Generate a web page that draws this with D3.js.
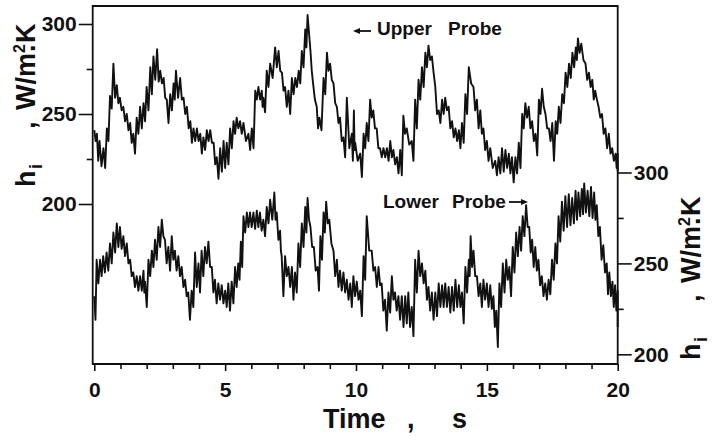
<!DOCTYPE html>
<html>
<head>
<meta charset="utf-8">
<script src="https://cdn.jsdelivr.net/npm/d3@7/dist/d3.min.js"></script>
<style>
    body { margin: 0; background: #fff; }
    svg { display: block; }
    text {
        font-family: "Liberation Sans", Arial, sans-serif;
        font-weight: bold;
        fill: #111;
    }
    .tick line { stroke: #111; stroke-width: 1.6; }
    .tick text { font-size: 21px; }
</style>
</head>
<body>
<svg width="712" height="437"></svg>
<script>
/*global d3 */
"use strict";

// [time s, top of noise band, bottom of noise band], W/m2K
var upperProbe = [
    [0, 241, 235], [0.1, 239, 224], [0.2, 235, 221], [0.35, 231, 220],
    [0.48, 242, 235], [0.6, 260, 253], [0.73, 278, 259], [0.86, 266, 256],
    [0.98, 259, 252], [1.11, 254, 246], [1.24, 250, 241], [1.37, 245, 234],
    [1.49, 239, 228], [1.62, 248, 239], [1.75, 254, 242], [1.88, 256, 246],
    [2.0, 265, 252], [2.14, 276, 261], [2.26, 282, 269], [2.4, 286, 268],
    [2.52, 274, 267], [2.65, 270, 259], [2.77, 258, 245], [2.9, 261, 252],
    [3.03, 267, 258], [3.12, 274, 259], [3.28, 270, 258], [3.41, 259, 250],
    [3.54, 254, 242], [3.67, 246, 234], [3.79, 242, 235], [3.92, 242, 235],
    [4.05, 239, 228], [4.17, 237, 230], [4.3, 241, 235], [4.43, 241, 234],
    [4.56, 234, 222], [4.68, 226, 214], [4.81, 231, 218], [4.94, 235, 220],
    [5.06, 234, 222], [5.19, 242, 231], [5.32, 246, 239], [5.44, 248, 242],
    [5.57, 246, 239], [5.7, 245, 235], [5.89, 239, 230], [6.02, 242, 231],
    [6.15, 263, 258], [6.27, 265, 258], [6.4, 263, 254], [6.46, 259, 251],
    [6.59, 274, 265], [6.72, 278, 270], [6.91, 287, 276], [7.04, 285, 274],
    [7.17, 273, 263], [7.29, 265, 254], [7.42, 263, 250], [7.55, 270, 261],
    [7.68, 270, 265], [7.81, 274, 267], [7.93, 285, 276], [8.06, 297, 287],
    [8.15, 305, 295], [8.26, 285, 274], [8.36, 267, 258], [8.5, 254, 242],
    [8.6, 248, 241], [8.76, 270, 261], [8.89, 284, 274], [9.01, 278, 269],
    [9.14, 267, 256], [9.27, 254, 245], [9.39, 248, 235], [9.52, 237, 226],
    [9.65, 259, 231], [9.84, 239, 224], [9.92, 252, 230], [9.97, 234, 224],
    [10.16, 228, 215], [10.29, 239, 231], [10.41, 245, 235],
    [10.54, 258, 248], [10.66, 252, 242], [10.79, 242, 231],
    [10.92, 231, 226], [11.05, 231, 226], [11.18, 231, 224],
    [11.31, 235, 226], [11.43, 230, 222], [11.56, 226, 217],
    [11.69, 230, 216], [11.81, 249, 239], [11.94, 242, 233],
    [12.13, 235, 224], [12.26, 258, 242], [12.39, 269, 258],
    [12.52, 276, 265], [12.65, 284, 276], [12.77, 288, 280],
    [12.9, 282, 273], [13.03, 265, 250], [13.16, 252, 245],
    [13.29, 258, 250], [13.41, 259, 252], [13.54, 254, 242],
    [13.67, 246, 237], [13.8, 242, 235], [13.93, 241, 231],
    [14.05, 245, 234], [14.18, 261, 250], [14.31, 276, 267],
    [14.49, 265, 252], [14.62, 258, 242], [14.75, 252, 239],
    [14.87, 242, 230], [15.0, 235, 224], [15.13, 231, 220],
    [15.32, 224, 216], [15.45, 226, 217], [15.58, 231, 218],
    [15.71, 230, 220], [15.84, 228, 217], [15.96, 226, 212],
    [16.09, 226, 217], [16.22, 234, 220], [16.35, 250, 242],
    [16.47, 256, 248], [16.6, 254, 242], [16.73, 246, 235],
    [16.86, 239, 227], [16.99, 258, 250], [17.11, 264, 254],
    [17.24, 250, 242], [17.37, 242, 235], [17.5, 245, 224],
    [17.63, 246, 239], [17.75, 254, 245], [17.88, 261, 256],
    [18.01, 273, 265], [18.14, 278, 270], [18.27, 284, 276],
    [18.4, 287, 280], [18.48, 292, 284], [18.61, 289, 280],
    [18.77, 278, 269], [18.9, 273, 265], [19.03, 269, 258],
    [19.14, 263, 258], [19.27, 254, 248], [19.4, 250, 239],
    [19.53, 242, 231], [19.66, 239, 228], [19.79, 231, 224],
    [19.92, 228, 220], [20.0, 228, 218]
];

var lowerProbe = [
    [0, 232, 219], [0.09, 252, 239], [0.22, 252, 243], [0.34, 254, 245],
    [0.47, 256, 246], [0.6, 261, 250], [0.73, 267, 256], [0.86, 272, 259],
    [0.98, 270, 258], [1.11, 265, 254], [1.24, 261, 250], [1.37, 252, 243],
    [1.49, 245, 237], [1.62, 243, 235], [1.75, 243, 235], [1.88, 246, 234],
    [1.94, 240, 226], [2.07, 252, 243], [2.2, 257, 248], [2.32, 263, 252],
    [2.45, 270, 259], [2.58, 274, 265], [2.7, 263, 250], [2.83, 259, 246],
    [2.96, 265, 252], [3.08, 257, 246], [3.21, 254, 243], [3.34, 248, 237],
    [3.47, 241, 232], [3.59, 234, 219], [3.72, 235, 226], [3.85, 256, 237],
    [3.98, 250, 234], [4.1, 257, 243], [4.23, 259, 250], [4.36, 262, 248],
    [4.49, 248, 234], [4.61, 241, 228], [4.74, 239, 230], [4.87, 238, 228],
    [5.0, 235, 226], [5.12, 239, 224], [5.25, 240, 228], [5.38, 248, 237],
    [5.5, 250, 241], [5.6, 262, 248], [5.7, 276, 267], [5.83, 278, 270],
    [5.95, 278, 270], [6.08, 278, 269], [6.21, 279, 270], [6.33, 278, 268],
    [6.46, 274, 265], [6.59, 281, 272], [6.72, 285, 274], [6.88, 289, 274],
    [6.97, 278, 263], [7.1, 268, 257], [7.16, 254, 232], [7.29, 254, 243],
    [7.42, 248, 237], [7.55, 248, 230], [7.67, 245, 234], [7.8, 261, 248],
    [7.93, 272, 259], [8.06, 281, 267], [8.15, 286, 274], [8.26, 270, 259],
    [8.39, 259, 246], [8.53, 248, 235], [8.64, 265, 252], [8.76, 278, 267],
    [8.86, 284, 272], [8.98, 274, 261], [9.14, 257, 243], [9.27, 252, 237],
    [9.39, 246, 235], [9.52, 245, 234], [9.65, 241, 230], [9.78, 239, 226],
    [9.9, 243, 232], [10.03, 240, 230], [10.16, 235, 221],
    [10.29, 254, 241], [10.41, 276, 257], [10.6, 257, 246],
    [10.73, 248, 237], [10.86, 248, 238], [10.98, 239, 224],
    [11.11, 230, 213], [11.24, 234, 223], [11.37, 243, 230],
    [11.49, 234, 224], [11.62, 232, 219], [11.75, 232, 215],
    [11.88, 232, 217], [12.0, 234, 215], [12.13, 226, 210],
    [12.26, 252, 234], [12.39, 257, 243], [12.52, 250, 239],
    [12.65, 246, 230], [12.77, 237, 224], [12.9, 234, 219],
    [13.03, 234, 221], [13.16, 239, 226], [13.29, 238, 226],
    [13.41, 239, 226], [13.54, 237, 223], [13.67, 237, 224],
    [13.8, 241, 226], [13.93, 238, 226], [14.05, 234, 217],
    [14.18, 248, 234], [14.31, 252, 243], [14.38, 265, 248],
    [14.49, 257, 243], [14.62, 243, 232], [14.75, 239, 226],
    [14.87, 241, 230], [15.0, 239, 226], [15.13, 238, 225],
    [15.25, 232, 215], [15.36, 224, 204], [15.48, 239, 226],
    [15.61, 250, 234], [15.74, 252, 241], [15.86, 248, 232],
    [15.99, 259, 245], [16.12, 267, 254], [16.25, 270, 257],
    [16.37, 276, 265], [16.5, 282, 270], [16.62, 270, 256],
    [16.73, 263, 248], [16.85, 259, 246], [16.97, 252, 238],
    [17.1, 243, 232], [17.23, 239, 230], [17.36, 241, 233],
    [17.49, 252, 241], [17.62, 261, 250], [17.74, 276, 262],
    [17.87, 284, 268], [18.0, 287, 270], [18.13, 288, 271],
    [18.26, 286, 272], [18.39, 290, 274], [18.5, 289, 276],
    [18.63, 291, 277], [18.72, 294, 278], [18.85, 290, 276],
    [18.98, 292, 275], [19.1, 289, 274], [19.2, 282, 265],
    [19.32, 270, 252], [19.45, 260, 245], [19.58, 250, 233],
    [19.68, 245, 232], [19.8, 240, 226], [19.9, 238, 224],
    [20.0, 235, 215]
];

var timeTicks = [0, 5, 10, 15, 20];
var timeMinorTicks = [1, 2, 3, 4, 6, 7, 8, 9, 11, 12, 13, 14, 16, 17, 18, 19];
var hTicks = [200, 250, 300];
var hMinorTicks = [225, 275];

var svg = d3.select("svg");

var xScale = d3.scaleLinear().domain([0, 20]).range([94.3, 617.7]);
var yUpper = d3.scaleLinear().domain([200, 300]).range([204, 24]);
var yLower = d3.scaleLinear().domain([200, 300]).range([354.3, 172.5]);

var frame = {left: 92.7, right: 617.7, top: 6, bottom: 364};

// noise band: alternate top and bottom of the band along the time axis
var zigzag = function (rows) {
    var pts = [];
    rows.forEach(function (r, i) {
        var next = i < rows.length - 1 ? rows[i + 1][0] : r[0];
        pts.push([r[0], r[1]]);
        pts.push([(r[0] + next) / 2, r[2]]);
    });
    return pts;
};

var traceLine = function (yScale) {
    return d3.line()
        .x(function (d) {
            return xScale(d[0]);
        })
        .y(function (d) {
            return yScale(d[1]);
        });
};

svg.append("path")
    .datum(zigzag(upperProbe))
    .attr("fill", "none")
    .attr("stroke", "#111")
    .attr("stroke-width", 1.9)
    .attr("stroke-linejoin", "round")
    .attr("d", traceLine(yUpper));

svg.append("path")
    .datum(zigzag(lowerProbe))
    .attr("fill", "none")
    .attr("stroke", "#111")
    .attr("stroke-width", 1.9)
    .attr("stroke-linejoin", "round")
    .attr("d", traceLine(yLower));

// frame
svg.append("path")
    .attr("fill", "none")
    .attr("stroke", "#111")
    .attr("stroke-width", 1.8)
    .attr("d", "M" + frame.left + "," + frame.bottom +
            "V" + frame.top + "H" + frame.right +
            "V" + frame.bottom + "Z");

// axes
var addAxis = function (axis, tx, ty) {
    var g = svg.append("g")
        .attr("transform", "translate(" + tx + "," + ty + ")")
        .call(axis);
    g.select(".domain").remove();
    return g;
};

addAxis(d3.axisLeft(yUpper).tickValues(hTicks).tickSize(14)
    .tickPadding(2), frame.left, 0);
addAxis(d3.axisLeft(yUpper).tickValues(hMinorTicks).tickSize(6)
    .tickFormat(""), frame.left, 0);
addAxis(d3.axisRight(yLower).tickValues(hTicks).tickSize(14)
    .tickPadding(2), frame.right, 0);
addAxis(d3.axisRight(yLower).tickValues(hMinorTicks).tickSize(6)
    .tickFormat(""), frame.right, 0);
addAxis(d3.axisBottom(xScale).tickValues(timeTicks).tickSize(7)
    .tickPadding(11), 0, frame.bottom);
addAxis(d3.axisBottom(xScale).tickValues(timeMinorTicks).tickSize(5)
    .tickFormat(""), 0, frame.bottom);

// x title
var xTitle = svg.append("g").style("font-size", "27px");
xTitle.append("text").attr("x", 323).attr("y", 428).text("Time");
xTitle.append("text").attr("x", 407).attr("y", 428).text(",");
xTitle.append("text").attr("x", 452).attr("y", 428).text("s");

// y titles
var yTitle = function (tx, ty, size) {
    var k = size / 27;
    var t = svg.append("text")
        .attr("transform", "translate(" + tx + "," + ty + ") rotate(-90)")
        .style("font-size", size + "px");
    t.append("tspan").attr("x", 0).attr("y", 0).text("h");
    t.append("tspan").attr("x", 18 * k).attr("y", 7 * k)
        .style("font-size", (18 * k) + "px").text("i");
    t.append("tspan").attr("x", 58 * k).attr("y", 0).text(",");
    t.append("tspan").attr("x", 77 * k).attr("y", 0).text("W/m");
    t.append("tspan").attr("x", 134 * k).attr("y", -10 * k)
        .style("font-size", (16 * k) + "px").text("2");
    t.append("tspan").attr("x", 135 * k).attr("y", 0).text(".");
    t.append("tspan").attr("x", 144 * k).attr("y", 0).text("K");
};
yTitle(35, 187, 27);
yTitle(700, 360, 27);

// probe labels with arrows
var labels = svg.append("g").style("font-size", "19px");
labels.append("text").attr("x", 377).attr("y", 35).text("Upper");
labels.append("text").attr("x", 448).attr("y", 35).text("Probe");
labels.append("text").attr("x", 383).attr("y", 208).text("Lower");
labels.append("text").attr("x", 452).attr("y", 208).text("Probe");

var arrow = function (x1, x2, y) {
    var dir = x2 > x1 ? 1 : -1;
    svg.append("line")
        .attr("x1", x1).attr("x2", x2 - dir * 3)
        .attr("y1", y).attr("y2", y)
        .attr("stroke", "#111").attr("stroke-width", 1.8);
    svg.append("path")
        .attr("fill", "#111")
        .attr("d", "M" + x2 + "," + y + "L" + (x2 - dir * 7) + "," +
                (y - 3) + "L" + (x2 - dir * 7) + "," + (y + 3) + "Z");
};
arrow(371, 353, 31);
arrow(509, 528, 202);
</script>
</body>
</html>
